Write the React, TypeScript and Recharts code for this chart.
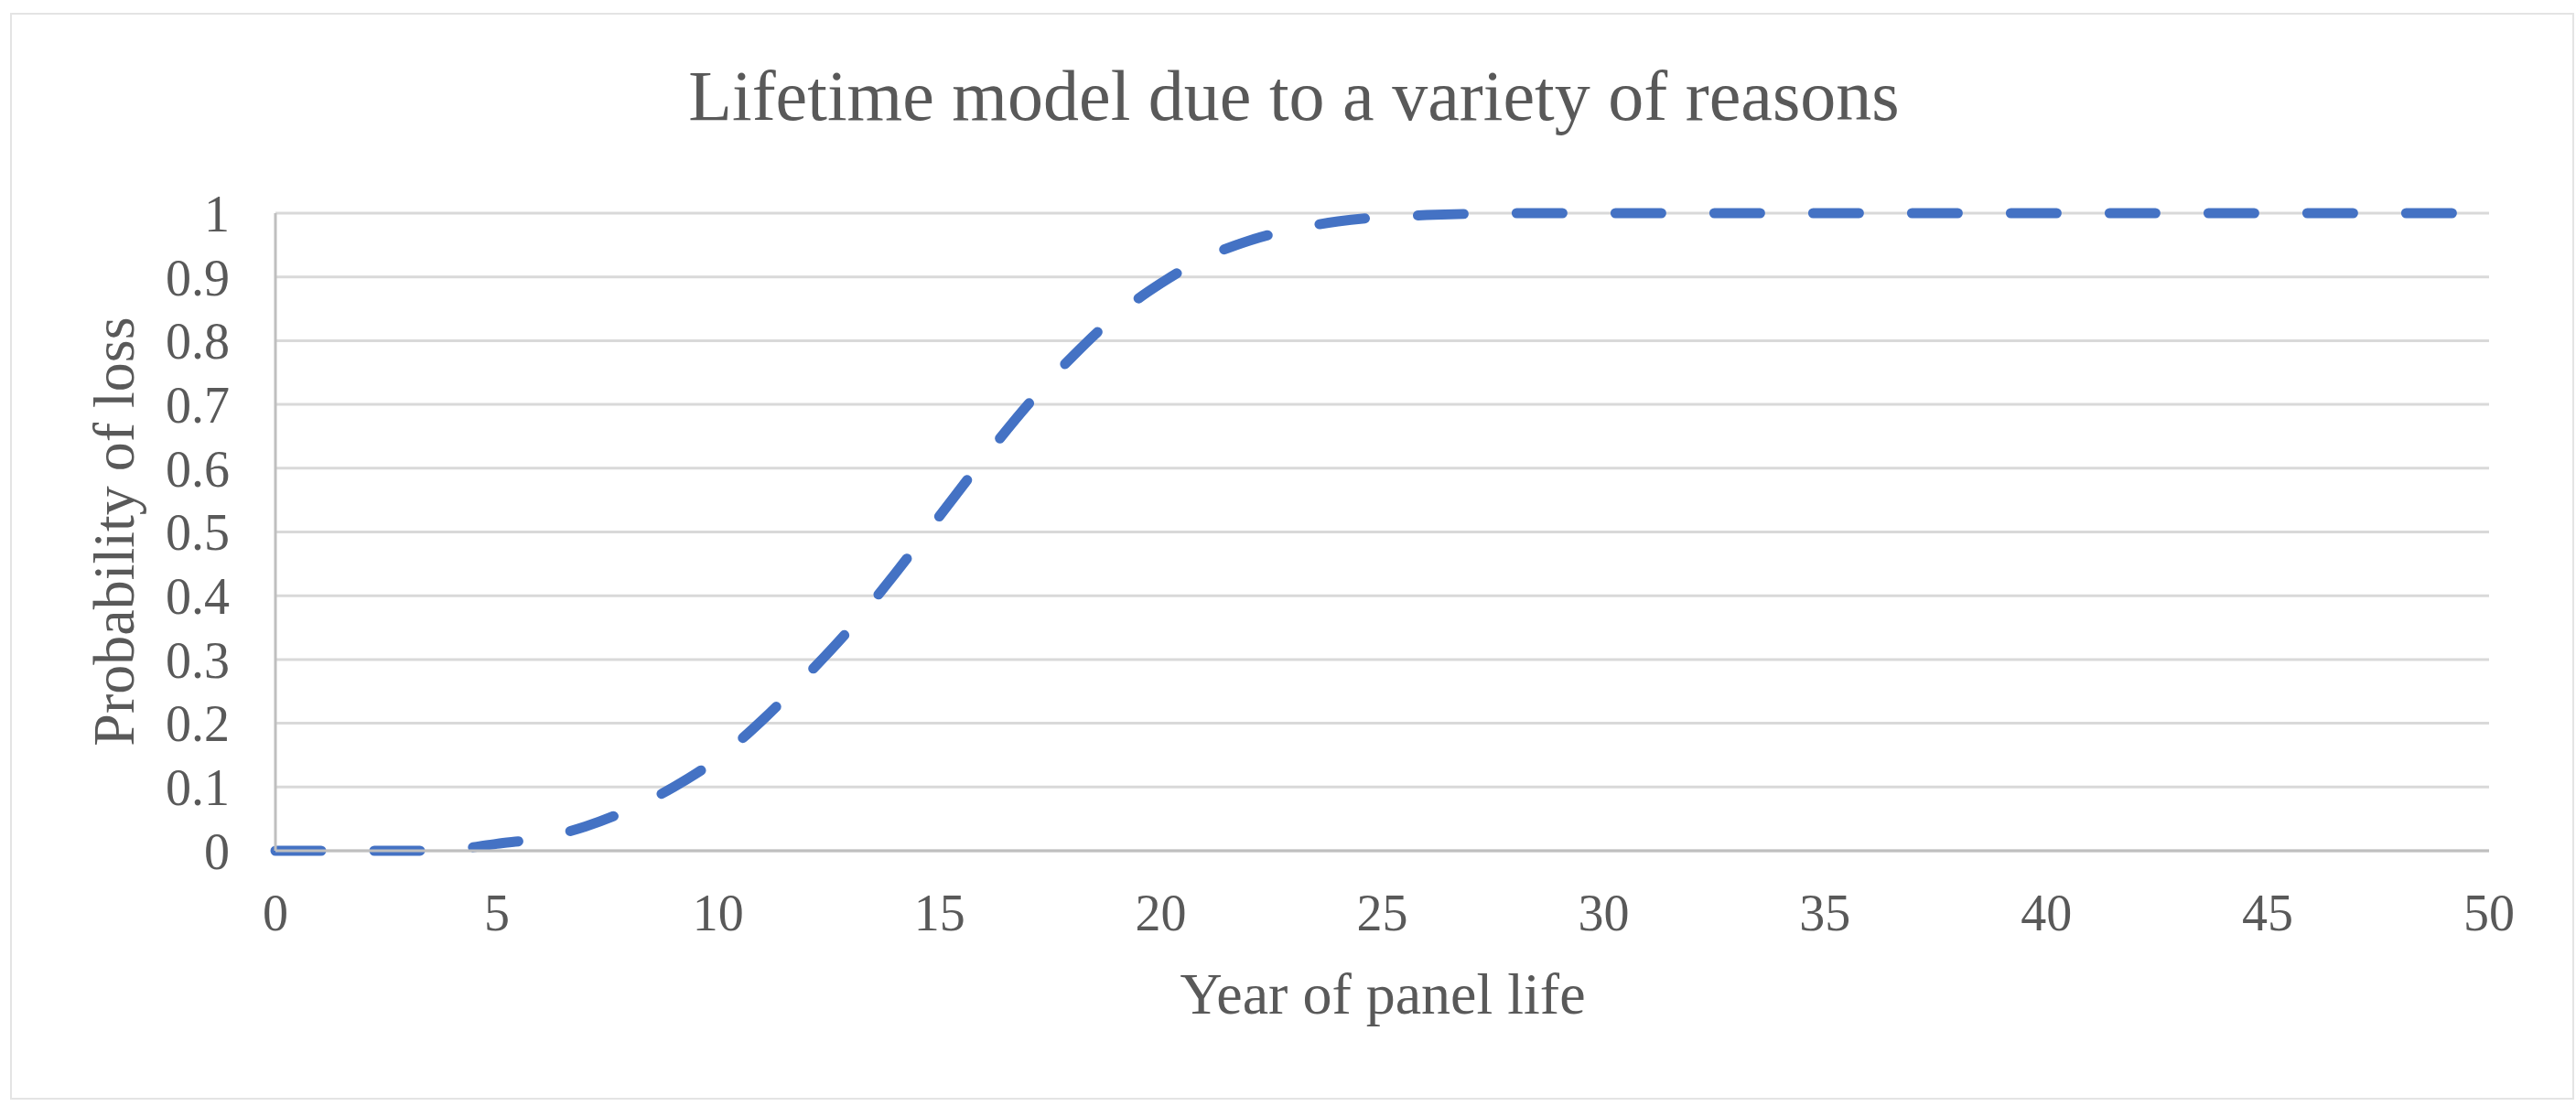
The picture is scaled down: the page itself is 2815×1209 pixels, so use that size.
import React from "react";
import { LineChart, Line, XAxis, YAxis, CartesianGrid } from "recharts";

// year of panel life -> cumulative probability of loss
const years = [
  0, 1, 2, 3, 4, 5, 6, 7, 8, 9, 10, 11, 12, 13, 14, 15, 16, 17, 18, 19, 20, 21, 22, 23, 24, 25,
  26, 27, 28, 29, 30, 31, 32, 33, 34, 35, 36, 37, 38, 39, 40, 41, 42, 43, 44, 45, 46, 47, 48, 49, 50,
];
const probability = [
  0, 0, 0, 0, 0.002, 0.011, 0.02, 0.038, 0.065, 0.1, 0.145, 0.205, 0.275, 0.35, 0.435, 0.525,
  0.615, 0.7, 0.775, 0.84, 0.89, 0.93, 0.957, 0.975, 0.987, 0.994, 0.997, 0.999, 1, 1, 1, 1, 1, 1,
  1, 1, 1, 1, 1, 1, 1, 1, 1, 1, 1, 1, 1, 1, 1, 1, 1,
];
const xTicks = [0, 5, 10, 15, 20, 25, 30, 35, 40, 45, 50];
const yTicks = [0, 0.1, 0.2, 0.3, 0.4, 0.5, 0.6, 0.7, 0.8, 0.9, 1];

const TITLE = "Lifetime model due to a variety of reasons";
const X_TITLE = "Year of panel life";
const Y_TITLE = "Probability of loss";

const W = 2815;
const H = 1209;
const FONT = '"Liberation Serif", "Times New Roman", serif';
const TEXT = "#595959";

export default function App() {
  const data = years.map((year, i) => ({ year, p: probability[i] }));

  return (
    <div style={{ position: "absolute", left: 0, top: 0, width: W, height: H, background: "#fff" }}>
      <div
        style={{
          position: "absolute",
          left: 11,
          top: 14,
          width: W - 13,
          height: H - 21,
          border: "2px solid #e4e4e4",
          boxSizing: "border-box",
        }}
      />
      <div style={{ position: "absolute", left: 0, top: 0 }}>
        <LineChart
          width={W}
          height={H}
          data={data}
          margin={{ top: 233, right: 95, left: 151, bottom: 129 }}
        >
          <CartesianGrid horizontal vertical={false} stroke="#d9d9d9" strokeWidth={3} />
          <XAxis
            dataKey="year"
            type="number"
            domain={[0, 50]}
            ticks={xTicks}
            height={150}
            tickLine={false}
            tickSize={0}
            tickMargin={47}
            axisLine={{ stroke: "#bfbfbf", strokeWidth: 3 }}
            tick={{ fontSize: 56, fill: TEXT, fontFamily: FONT }}
          />
          <YAxis
            type="number"
            domain={[0, 1]}
            ticks={yTicks}
            width={150}
            tickLine={false}
            tickSize={0}
            tickMargin={50}
            axisLine={{ stroke: "#bfbfbf", strokeWidth: 3 }}
            tick={{ fontSize: 56, fill: TEXT, fontFamily: FONT }}
            tickFormatter={(v: number) => String(Math.round(v * 10) / 10)}
          />
          <Line
            type="monotone"
            dataKey="p"
            stroke="#4472C4"
            strokeWidth={11}
            strokeDasharray="50 58"
            strokeLinecap="round"
            dot={false}
            isAnimationActive={false}
          />
        </LineChart>
      </div>
      <svg
        width={W}
        height={H}
        style={{ position: "absolute", left: 0, top: 0, pointerEvents: "none" }}
      >
        <text x={1414} y={131} textAnchor="middle" fontSize={78} fill={TEXT} fontFamily={FONT}>
          {TITLE}
        </text>
        <text x={1511} y={1108} textAnchor="middle" fontSize={64} fill={TEXT} fontFamily={FONT}>
          {X_TITLE}
        </text>
        <text
          x={0}
          y={0}
          transform={`translate(146, 581) rotate(-90)`}
          textAnchor="middle"
          fontSize={64}
          fill={TEXT}
          fontFamily={FONT}
        >
          {Y_TITLE}
        </text>
      </svg>
    </div>
  );
}
